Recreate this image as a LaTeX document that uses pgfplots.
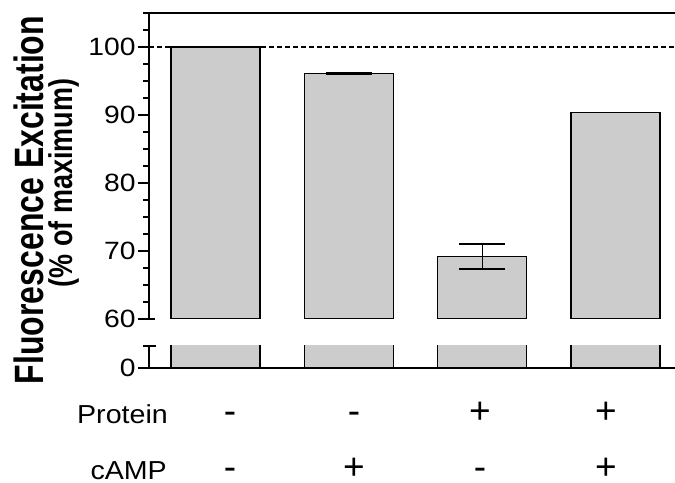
\documentclass[border=0pt]{standalone}
\usepackage{fontspec}
\setmainfont{Liberation Sans}
\usepackage{pgfplots}
\pgfplotsset{compat=1.18}
\definecolor{barfill}{gray}{0.8}
\begin{document}
\begin{tikzpicture}
\pgfplotsset{
  brk/.style={
    scale only axis, width=526bp, xmin=-0.5, xmax=3.446,
    axis line style={line width=1.6bp, black},
    xtick=\empty,
    tick style={line width=1.6bp, black},
    major tick length=11bp, minor tick length=6bp,
    yticklabel style={font=\fontsize{25bp}{30bp}\selectfont, inner sep=2bp, xscale=1.13},
    /pgf/number format/assume math mode=true,
    clip=true,
  },
  mybar/.style={ybar, bar width=89bp, fill=barfill, draw=black, line width=1.4bp},
}
\path (0,0) rectangle (675bp,483bp);
% top segment
\begin{axis}[brk, name=top, at={(149bp,164bp)}, anchor=south west, height=306bp,
  ymin=60, ymax=105, axis y line*=left, axis x line*=top,
  ytick={60,70,80,90,100}, minor ytick={62.5,65,...,105},
  tick align=outside]
\addplot[black, line width=1.2bp, dash pattern=on 5bp off 3bp, forget plot] coordinates {(-0.5,100) (3.446,100)};
\addplot[mybar, error bars/.cd, y dir=both, y explicit, error mark=|,
  error bar style={line width=1.5bp, black},
  error mark options={mark size=23bp, line width=1.5bp, black}]
  coordinates {(0,100) +- (0,0) (1,96.1) +- (0,0.12) (2,69.2) += (0,1.8) -= (0,1.85) (3,90.4) +- (0,0)};
\end{axis}
% bottom segment
\begin{axis}[brk, name=bot, at={(149bp,115bp)}, anchor=south west, height=22bp,
  ymin=0, ymax=3.235, axis y line*=left, axis x line*=bottom,
  ytick={0}, tick align=outside]
\addplot[mybar] coordinates {(0,100) (1,96.1) (2,69.2) (3,90.4)};
\end{axis}
\draw[line width=1.6bp] (top.south west) ++(-11bp,0) -- ++(17bp,0);
\draw[line width=1.6bp] (bot.north west) ++(-6bp,0) -- ++(13bp,0);
% y label
\node[xscale=1.28, rotate=90, anchor=base, font=\bfseries\fontsize{32bp}{36bp}\selectfont, inner sep=0pt] at (43bp,283bp) {Fluorescence Excitation};
\node[xscale=1.22, rotate=90, anchor=base, font=\bfseries\fontsize{27bp}{32bp}\selectfont, inner sep=0pt] at (72bp,300bp) {(\% of maximum)};
% condition rows
\node[xscale=1.1, anchor=base east, font=\fontsize{26bp}{30bp}\selectfont, inner sep=0pt] at (168bp,59bp) {Protein};
\node[xscale=1.1, anchor=base east, font=\fontsize{26bp}{30bp}\selectfont, inner sep=0pt] at (167bp,4bp) {cAMP};
\foreach \x/\s in {230/-,354/-,480/+,606/+} \node[anchor=base, font=\fontsize{37bp}{40bp}\selectfont, inner sep=0pt] at (\x bp,59bp) {\s};
\foreach \x/\s in {230/-,354/+,480/-,606/+} \node[anchor=base, font=\fontsize{37bp}{40bp}\selectfont, inner sep=0pt] at (\x bp,4bp) {\s};
\pgfresetboundingbox
\path (0,0) rectangle (675bp,483bp);
\end{tikzpicture}
\end{document}
